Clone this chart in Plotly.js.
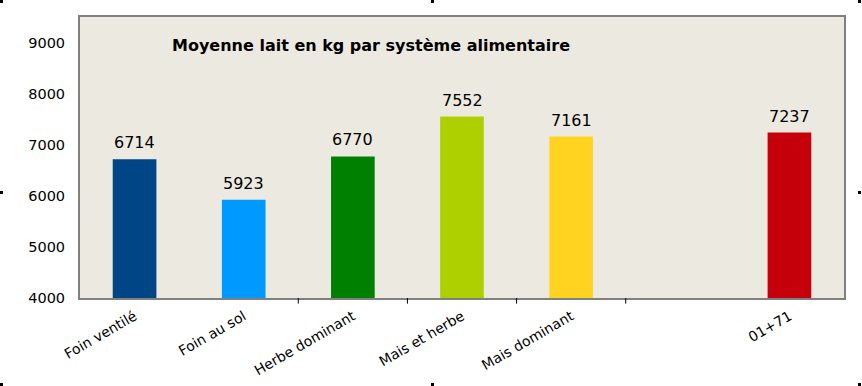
<!DOCTYPE html>
<html>
<head>
<meta charset="utf-8">
<script src="https://cdn.plot.ly/plotly-3.0.1.min.js"></script>
<style>
  html, body { margin: 0; padding: 0; background: #ffffff; }
  #chart { width: 862px; height: 386px; position: relative; }
  .h { position: absolute; width: 3px; height: 3px; background: #000; z-index: 10; }
</style>
</head>
<body>
<div id="chart"></div>
<div class="h" style="left:0;top:0"></div>
<div class="h" style="left:431px;top:0"></div>
<div class="h" style="left:858px;top:0"></div>
<div class="h" style="left:0;top:191px"></div>
<div class="h" style="left:858px;top:191px"></div>
<div class="h" style="left:0;top:383px"></div>
<div class="h" style="left:431px;top:383px"></div>
<div class="h" style="left:858px;top:383px"></div>
<script>
const categories = ["Foin ventilé", "Foin au sol", "Herbe dominant", "Mais et herbe", "Mais dominant", " ", "01+71"];
const values = [6714, 5923, 6770, 7552, 7161, null, 7237];
const barColors = ["#004586", "#0099FF", "#008000", "#AED000", "#FFD320", "#FFFFFF", "#C5000B"];
const chartTitle = "Moyenne lait en kg par système alimentaire";
const yTickVals = [4000, 5000, 6000, 7000, 8000, 9000];
const tickBoundaries = [1.5, 2.5, 3.5, 4.5];

const FONT = "DejaVu Sans, Noto Sans, sans-serif";

const trace = {
  type: "bar",
  x: categories,
  y: values,
  marker: { color: barColors, line: { width: 0 } },
  width: 0.4,
  hoverinfo: "none"
};

const annotations = [];
categories.forEach((c, i) => {
  if (values[i] == null) return;
  annotations.push({
    x: c, y: values[i], xref: "x", yref: "y",
    text: String(values[i]),
    showarrow: false, yanchor: "bottom", yshift: 5,
    font: { family: FONT, size: 16, color: "#000000" }
  });
});
annotations.push({
  x: 0.3815, y: 0.897, xref: "paper", yref: "paper",
  text: "<b>" + chartTitle + "</b>",
  showarrow: false, xanchor: "center", yanchor: "middle",
  font: { family: FONT, size: 16, color: "#000000" }
});

const shapes = tickBoundaries.map(b => ({
  type: "line", xref: "x", yref: "paper",
  x0: b, x1: b, y0: 0, y1: -0.02,
  line: { color: "#000000", width: 1 }
}));

const layout = {
  width: 862, height: 386,
  margin: { l: 80, r: 18, t: 17, b: 88 },
  paper_bgcolor: "#FFFFFF",
  plot_bgcolor: "#ECEAE0",
  showlegend: false,
  font: { family: FONT, color: "#000000" },
  xaxis: {
    type: "category",
    categoryorder: "array",
    categoryarray: categories,
    showgrid: false,
    zeroline: false,
    showline: true, linecolor: "#808080", linewidth: 2, mirror: true,
    ticks: "",
    tickangle: -30,
    ticklabelstandoff: 3,
    tickfont: { family: FONT, size: 14, color: "#000000" },
    fixedrange: true
  },
  yaxis: {
    range: [4000, 9500],
    tickvals: yTickVals,
    ticktext: yTickVals.map(String),
    showgrid: false,
    zeroline: false,
    showline: true, linecolor: "#808080", linewidth: 2, mirror: true,
    ticks: "",
    ticklabelstandoff: 10,
    tickfont: { family: FONT, size: 14.5, color: "#000000" },
    fixedrange: true
  },
  annotations: annotations,
  shapes: shapes
};

Plotly.newPlot("chart", [trace], layout, { displayModeBar: false, staticPlot: true });
</script>
</body>
</html>
